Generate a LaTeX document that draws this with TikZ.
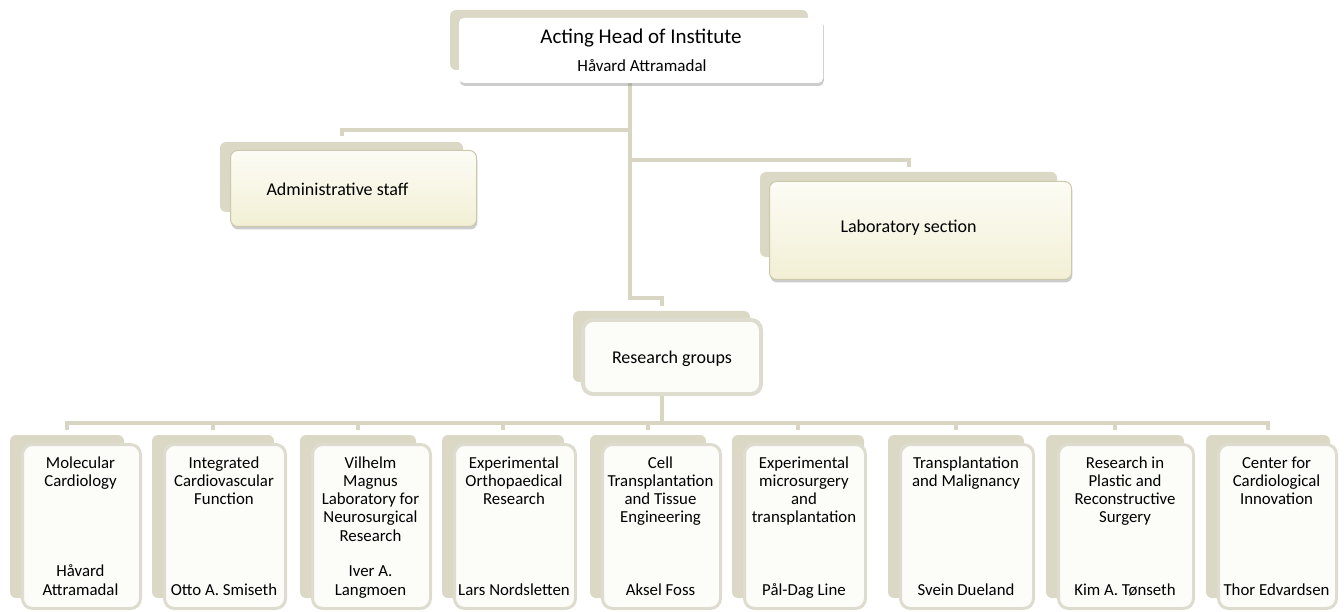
\documentclass[tikz,border=0pt]{standalone}
\usepackage{fontspec}
\setmainfont{Carlito}
\usetikzlibrary{shadows}
\definecolor{linec}{RGB}{216,214,194}
\definecolor{shadc}{RGB}{219,217,198}
\definecolor{bordc}{RGB}{222,220,206}
\definecolor{boxf}{RGB}{252,252,249}
\definecolor{creamt}{RGB}{253,252,245}
\definecolor{creamb}{RGB}{242,239,213}
\definecolor{creamd}{RGB}{203,200,172}
\pgfdeclarelayer{bg}
\pgfsetlayers{bg,main}
\newcommand\leafbox[6]{%
  \node[shad, minimum width={2*(#4-#2+11)}, minimum height=163] (#1sh) at (#4,516.5) {};
  \node[leaf, minimum width={#3-#2-3}, minimum height=164] (#1) at ({(#2+#3)/2},526.5) {};
  \node[leaftxt, anchor=base] (#1t) at ({(#2+#3)/2-1},468) {\begin{tabular}[t]{@{}c@{}}#5\end{tabular}};
  \node[leaftxt, anchor=base] (#1n) at ({(#2+#3)/2-1},595) {\begin{tabular}[b]{@{}c@{}}#6\end{tabular}};
}
\begin{document}
\begin{tikzpicture}[x=1pt,y=-1pt,
  conn/.style={draw=linec, line width=4pt, line cap=rect},
  shad/.style={fill=shadc, rounded corners=6pt, inner sep=0pt, draw=none},
  topbox/.style={fill=white, rounded corners=5pt, inner sep=0pt,
    drop shadow={opacity=0.4, shadow xshift=0.8pt, shadow yshift=-3pt}},
  midbox/.style={top color=creamt, bottom color=creamb, draw=creamd, line width=1pt,
    rounded corners=7pt, inner sep=0pt,
    drop shadow={opacity=0.4, shadow xshift=0.8pt, shadow yshift=-3pt}},
  rgbox/.style={fill=boxf, draw=bordc, line width=4pt, rounded corners=10pt, inner sep=0pt},
  leaf/.style={fill=boxf, draw=bordc, line width=3pt, rounded corners=10pt, inner sep=0pt},
  titlef/.style={font=\fontsize{21}{25}\selectfont, inner sep=0pt},
  namef/.style={font=\fontsize{17}{20}\selectfont, inner sep=0pt},
  midf/.style={font=\fontsize{18}{22}\selectfont, inner sep=0pt},
  leaftxt/.style={font=\fontsize{16.8}{18.3}\selectfont, inner sep=0pt},
]
\useasboundingbox (0,0) rectangle (1344,612);

% top
\node[shad, minimum width=358, minimum height=60] (topsh) at (629,40) {};
\node[topbox, minimum width=364, minimum height=65] (top) at (641,50.5) {};
\node[titlef, anchor=base] (toptitle) at (641,44) {Acting Head of Institute};
\node[namef, anchor=base] (topname) at (642,72) {Håvard Attramadal};

% administrative staff
\node[shad, minimum width=243, minimum height=70] (admsh) at (341.5,177) {};
\node[midbox, minimum width=246, minimum height=76] (adm) at (353.5,188.5) {};
\node[midf, anchor=base] (admt) at (337.5,196) {Administrative staff};

% laboratory section
\node[shad, minimum width=297, minimum height=85] (labsh) at (908.5,214.5) {};
\node[midbox, minimum width=302, minimum height=98] (lab) at (920.5,230.5) {};
\node[midf, anchor=base] (labt) at (908.5,233) {Laboratory section};

% research groups
\node[shad, minimum width=177, minimum height=71] (rgsh) at (661.5,346.5) {};
\node[rgbox, minimum width=178, minimum height=74] (rg) at (672,357) {};
\node[midf, anchor=base] (rgt) at (672,363) {Research groups};

% leaves
\leafbox{b1}{21}{142}{67}{Molecular\\Cardiology}{Håvard\\Attramadal}
\leafbox{b2}{163}{287}{213}{Integrated\\Cardiovascular\\Function}{Otto A. Smiseth}
\leafbox{b3}{311}{432}{358}{Vilhelm\\Magnus\\Laboratory for\\Neurosurgical\\Research}{Iver A.\\Langmoen}
\leafbox{b4}{453}{577}{503}{Experimental\\Orthopaedical\\Research}{Lars Nordsletten}
\leafbox{b5}{601}{722}{648}{Cell\\Transplantation\\and Tissue\\Engineering}{Aksel Foss}
\leafbox{b6}{743}{867}{798}{Experimental\\microsurgery\\and\\transplantation}{Pål-Dag Line}
\leafbox{b7}{899}{1035}{956}{Transplantation\\and Malignancy}{Svein Dueland}
\leafbox{b8}{1057}{1195}{1115}{Research in\\Plastic and\\Reconstructive\\Surgery}{Kim A. Tønseth}
\leafbox{b9}{1217}{1338}{1268}{Center for\\Cardiological\\Innovation}{Thor Edvardsen}

% connectors
\coordinate (jadm) at (630,130);
\coordinate (jlab) at (630,160);
\coordinate (jrg) at (630,298);
\coordinate (bus) at (0,423);
\begin{pgfonlayer}{bg}
\draw[conn, shorten >=7pt] (top.south -| jrg) -- (jrg) -| (rgsh.north);
\draw[conn, shorten >=8pt] (jadm) -| (admsh.north);
\draw[conn, shorten >=7pt] (jlab) -| (labsh.north);
\draw[conn] (rg.south -| rgsh.north) -- (bus -| rgsh.north);
\draw[conn] (bus -| b1sh.north) -- (bus -| b9sh.north);
\foreach \s in {b1sh,b2sh,b3sh,b4sh,b5sh,b6sh,b7sh,b8sh,b9sh}
  \draw[conn, shorten >=7pt] (bus -| \s.north) -- (\s.north);
\end{pgfonlayer}
\end{tikzpicture}
\end{document}
